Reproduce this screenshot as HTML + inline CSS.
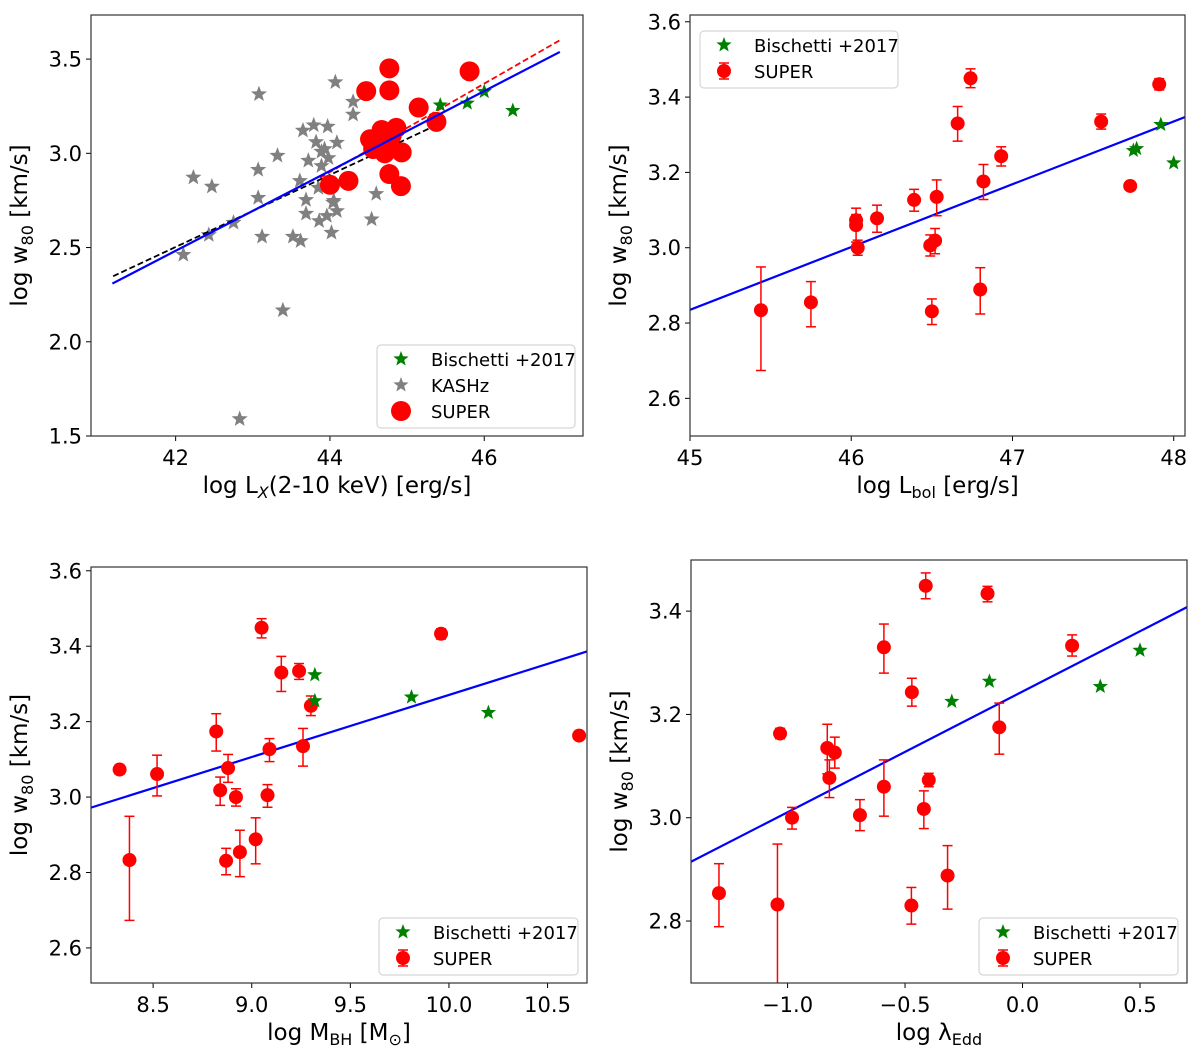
<!DOCTYPE html>
<html><head><meta charset="utf-8">
<style>
body{margin:0;background:#fff;}
svg{display:block;font-family:"DejaVu Sans","Liberation Sans",sans-serif;}
</style></head>
<body>
<svg id="fig" width="1200" height="1061" viewBox="0 0 1200 1061"></svg>
<script>
// ---------- Panel 1: log Lx ----------
const p1SuperX=[44.47,44.77,44.77,45.81,45.15,45.38,44.52,44.67,44.86,44.60,44.73,44.93,44.71,44.56,44.24,44.00,44.77,44.92,44.80];
const p1SuperY=[3.33,3.451,3.334,3.435,3.243,3.167,3.075,3.124,3.135,3.028,3.067,3.005,3.0,3.023,2.854,2.833,2.89,2.826,3.094];
const p1BisX=[45.43,45.78,46.0,46.37];
const p1BisY=[3.256,3.266,3.327,3.227];
const p1KasX=[42.10,42.23,42.47,42.43,42.75,43.08,43.07,43.07,43.12,43.32,43.39,42.83,43.52,43.62,43.65,43.72,43.69,43.69,43.79,43.82,43.89,43.93,43.98,43.97,43.89,43.61,43.85,43.86,43.96,44.02,44.04,44.09,44.05,44.09,44.07,44.30,44.30,44.60,44.54];
const p1KasY=[2.462,2.872,2.824,2.567,2.632,3.314,2.913,2.764,2.558,2.988,2.167,1.59,2.558,2.535,3.121,2.961,2.753,2.68,3.149,3.06,3.009,3.023,2.975,3.142,2.933,2.854,2.817,2.641,2.668,2.579,2.739,2.694,2.748,3.057,3.378,3.274,3.206,2.785,2.65];
const p1BlueFit=[41.18,2.309,46.98,3.538];
const p1BlackFit=[41.19,2.348,45.34,3.142];
const p1RedFit=[43.87,2.87,46.98,3.60];
const p1XTicks=[42,44,46];
const p1YTicks=[1.5,2.0,2.5,3.0,3.5];
// ---------- Panel 2: log Lbol ----------
const p2X=[45.44,45.75,46.03,46.03,46.04,46.16,46.39,46.53,46.49,46.52,46.50,46.66,46.74,46.82,46.80,46.93,47.55,47.73,47.91];
const p2Y=[2.834,2.855,3.073,3.06,3.0,3.078,3.127,3.135,3.006,3.019,2.831,3.33,3.45,3.176,2.889,3.243,3.335,3.164,3.434];
const p2ErrUp=[0.115,0.055,0.015,0.045,0.02,0.035,0.028,0.045,0.028,0.032,0.033,0.045,0.025,0.045,0.058,0.025,0.02,0.01,0.015];
const p2ErrLo=[0.16,0.065,0.015,0.045,0.02,0.037,0.03,0.05,0.028,0.035,0.035,0.047,0.025,0.048,0.065,0.026,0.02,0.01,0.015];
const p2BisX=[47.75,47.77,47.92,48.0];
const p2BisY=[3.258,3.263,3.327,3.225];
const p2Fit=[45.0,2.835,48.10,3.352];
const p2XTicks=[45,46,47,48];
const p2YTicks=[2.6,2.8,3.0,3.2,3.4,3.6];
// ---------- Panel 3: log MBH ----------
const p3X=[8.33,8.38,8.52,8.82,8.84,8.88,8.87,8.92,8.94,9.02,9.05,9.09,9.08,9.15,9.24,9.30,9.26,9.96,10.66];
const p3Y=[3.073,2.833,3.061,3.174,3.018,3.077,2.831,3.0,2.854,2.888,3.449,3.127,3.005,3.33,3.334,3.242,3.135,3.433,3.163];
const p3ErrUp=[0.012,0.116,0.05,0.047,0.035,0.036,0.033,0.022,0.058,0.057,0.024,0.028,0.028,0.043,0.02,0.026,0.047,0.013,0.01];
const p3ErrLo=[0.012,0.16,0.058,0.052,0.04,0.038,0.037,0.024,0.065,0.065,0.027,0.033,0.032,0.05,0.022,0.026,0.053,0.014,0.01];
const p3BisX=[9.32,9.32,9.81,10.20];
const p3BisY=[3.324,3.255,3.265,3.224];
const p3Fit=[8.185,2.972,10.70,3.386];
const p3XTicks=[8.5,9.0,9.5,10.0,10.5];
const p3YTicks=[2.6,2.8,3.0,3.2,3.4,3.6];
// ---------- Panel 4: log lambda Edd ----------
const p4X=[-1.292,-1.043,-1.032,-0.981,-0.831,-0.799,-0.822,-0.692,-0.590,-0.590,-0.471,-0.412,-0.399,-0.420,-0.473,-0.319,-0.149,-0.099,0.211];
const p4Y=[2.854,2.832,3.163,3.0,3.135,3.126,3.077,3.005,3.33,3.06,3.243,3.449,3.073,3.017,2.83,2.888,3.434,3.175,3.333];
const p4ErrUp=[0.057,0.117,0.01,0.02,0.046,0.03,0.035,0.03,0.045,0.052,0.027,0.025,0.013,0.035,0.035,0.058,0.014,0.047,0.021];
const p4ErrLo=[0.065,0.2,0.01,0.022,0.05,0.03,0.038,0.03,0.05,0.057,0.027,0.025,0.013,0.038,0.036,0.065,0.016,0.052,0.02];
const p4BisX=[-0.301,-0.141,0.331,0.5];
const p4BisY=[3.225,3.264,3.254,3.324];
const p4Fit=[-1.414,2.914,0.701,3.408];
const p4XTicks=[-1.0,-0.5,0.0,0.5];
const p4YTicks=[2.8,3.0,3.2,3.4];

const NS="http://www.w3.org/2000/svg";
const svg=document.getElementById('fig');
function mk(tag,attrs,parent){const e=document.createElementNS(NS,tag);for(const k in attrs)e.setAttribute(k,attrs[k]);(parent||svg).appendChild(e);return e;}
function starPath(cx,cy,r){let d='';for(let i=0;i<10;i++){const rr=i%2?r*0.42:r;const a=-Math.PI/2+i*Math.PI/5;d+=(i?'L':'M')+(cx+rr*Math.cos(a)).toFixed(2)+','+(cy+rr*Math.sin(a)).toFixed(2);}return d+'Z';}
function fmt(v,dec){const s=v.toFixed(dec);return s.replace('-','\u2212');}

function makeAxes(o){
  const g=mk('g',{});
  
  
  const sx=v=>o.L+(v-o.x0)/(o.x1-o.x0)*(o.R-o.L);
  const sy=v=>o.B-(v-o.y0)/(o.y1-o.y0)*(o.B-o.T);
  const cp='clip-'+o.name;
  const defs=mk('defs',{},g);const c=mk('clipPath',{id:cp},defs);mk('rect',{x:o.L,y:o.T,width:o.R-o.L,height:o.B-o.T},c);
  const plot=mk('g',{'clip-path':'url(#'+cp+')'},g);
  
  
  o.xt.forEach(v=>{const x=sx(v);mk('line',{x1:x,x2:x,y1:o.B,y2:o.B+5,stroke:'#000','stroke-width':1},g);
    const t=mk('text',{x:x,y:o.B+29,'font-size':21,'text-anchor':'middle'},g);t.textContent=fmt(v,o.xd);
    
    });
  o.yt.forEach(v=>{const y=sy(v);mk('line',{x1:o.L-5,x2:o.L,y1:y,y2:y,stroke:'#000','stroke-width':1},g);
    const t=mk('text',{x:o.L-9,y:y+7.5,'font-size':21,'text-anchor':'end'},g);t.textContent=fmt(v,1);
    
    });
  const xl=mk('text',{x:(o.L+o.R)/2,y:o.B+57,'font-size':23,'text-anchor':'middle'},g);xl.innerHTML=o.xlab;
  
  
  const yc=(o.T+o.B)/2, yx=o.L-64;
  const yl=mk('text',{x:yx,y:yc,'font-size':23,'text-anchor':'middle',transform:'rotate(-90 '+yx+' '+yc+')'},g);
  yl.innerHTML='log w<tspan font-size="16" dy="6">80</tspan><tspan dy="-6"> [km/s]</tspan>';
  
  
  return {g,plot,sx,sy};
}
function fitLine(ax,f,color,dash,name){
  const l=mk('line',{x1:ax.sx(f[0]),y1:ax.sy(f[1]),x2:ax.sx(f[2]),y2:ax.sy(f[3]),stroke:color,'stroke-width':dash?1.8:2.2,'stroke-dasharray':dash?'6,3':'none'},ax.plot);
  
  
}
function stars(ax,xs,ys,color,r,name){
  xs.forEach((x,i)=>{const p=mk('path',{d:starPath(ax.sx(x),ax.sy(ys[i]),r),fill:color},ax.plot);
    
    });
}
function errPts(ax,xs,ys,up,lo,r,name){
  xs.forEach((x,i)=>{const cx=ax.sx(x),cy=ax.sy(ys[i]);
    const g=mk('g',{},ax.plot);
    
    
    if(up){const yt=ax.sy(ys[i]+up[i]),yb=ax.sy(ys[i]-lo[i]);
      mk('line',{x1:cx,x2:cx,y1:yt,y2:yb,stroke:'#f00','stroke-width':1.5},g);
      mk('line',{x1:cx-5,x2:cx+5,y1:yt,y2:yt,stroke:'#f00','stroke-width':1.5},g);
      mk('line',{x1:cx-5,x2:cx+5,y1:yb,y2:yb,stroke:'#f00','stroke-width':1.5},g);}
    mk('circle',{cx:cx,cy:cy,r:r,fill:'#f00'},g);});
}
function frame(ax,o){const r=mk('rect',{x:o.L,y:o.T,width:o.R-o.L,height:o.B-o.T,fill:'none',stroke:'#333','stroke-width':1.2},ax.g);
  
  }
function legend(ax,x,y,w,entries){
  const g=mk('g',{},ax.g);
  
  
  mk('rect',{x:x,y:y,width:w,height:5+entries.length*26,rx:4,fill:'#fff','fill-opacity':0.85,stroke:'#ccc','stroke-width':1},g);
  entries.forEach((e,i)=>{const cy=y+14+i*26,mx=x+24;
    const eg=mk('g',{},g);
    
    
    if(e.t==='star')mk('path',{d:starPath(mx,cy,8),fill:e.c},eg);
    else if(e.t==='big')mk('circle',{cx:mx,cy:cy,r:10,fill:'#f00'},eg);
    else{mk('line',{x1:mx,x2:mx,y1:cy-8,y2:cy+8,stroke:'#f00','stroke-width':1.5},eg);
      mk('line',{x1:mx-5,x2:mx+5,y1:cy-8,y2:cy-8,stroke:'#f00','stroke-width':1.5},eg);
      mk('line',{x1:mx-5,x2:mx+5,y1:cy+8,y2:cy+8,stroke:'#f00','stroke-width':1.5},eg);
      mk('circle',{cx:mx,cy:cy,r:7,fill:'#f00'},eg);}
    const t=mk('text',{x:x+54,y:cy+7,'font-size':18},eg);t.textContent=e.l;});
}

// Panel 1
const o1={name:'panel-lx',L:91,R:583,T:15,B:436,x0:40.903,x1:47.28,y0:1.5,y1:3.734,xt:p1XTicks,yt:p1YTicks,xd:0,xlab:'log L<tspan font-size="16" dy="5" font-style="italic">X</tspan><tspan dy="-5">(2-10 keV) [erg/s]</tspan>'};
const a1=makeAxes(o1);
stars(a1,p1KasX,p1KasY,'#808080',8.5,'kashz-point');
fitLine(a1,p1BlackFit,'#000',true,'kashz-fit-line');
fitLine(a1,p1RedFit,'#f00',true,'super-fit-line');
errPts(a1,p1SuperX,p1SuperY,null,null,10,'super-point');
stars(a1,p1BisX,p1BisY,'#008000',8,'bischetti-point');
fitLine(a1,p1BlueFit,'#00f',false,'total-fit-line');
frame(a1,o1);
legend(a1,377,345,198,[{t:'star',c:'#008000',l:'Bischetti +2017'},{t:'star',c:'#808080',l:'KASHz'},{t:'big',l:'SUPER'}]);

// Panel 2
const o2={name:'panel-lbol',L:690,R:1185,T:15,B:436,x0:45.0,x1:48.07,y0:2.5,y1:3.618,xt:p2XTicks,yt:p2YTicks,xd:0,xlab:'log L<tspan font-size="16" dy="5">bol</tspan><tspan dy="-5"> [erg/s]</tspan>'};
const a2=makeAxes(o2);
fitLine(a2,p2Fit,'#00f',false,'fit-line');
errPts(a2,p2X,p2Y,p2ErrUp,p2ErrLo,7,'super-point');
stars(a2,p2BisX,p2BisY,'#008000',8,'bischetti-point');
frame(a2,o2);
legend(a2,700,31,198,[{t:'star',c:'#008000',l:'Bischetti +2017'},{t:'err',l:'SUPER'}]);

// Panel 3
const o3={name:'panel-mbh',L:91,R:587,T:567,B:983,x0:8.185,x1:10.70,y0:2.507,y1:3.61,xt:p3XTicks,yt:p3YTicks,xd:1,xlab:'log M<tspan font-size="16" dy="5">BH</tspan><tspan dy="-5"> [M</tspan><tspan font-size="16" dy="5">⊙</tspan><tspan dy="-5">]</tspan>'};
const a3=makeAxes(o3);
fitLine(a3,p3Fit,'#00f',false,'fit-line');
errPts(a3,p3X,p3Y,p3ErrUp,p3ErrLo,7,'super-point');
stars(a3,p3BisX,p3BisY,'#008000',8,'bischetti-point');
frame(a3,o3);
legend(a3,379,918,199,[{t:'star',c:'#008000',l:'Bischetti +2017'},{t:'err',l:'SUPER'}]);

// Panel 4
const o4={name:'panel-edd',L:691,R:1187,T:560,B:983,x0:-1.411,x1:0.70,y0:2.68,y1:3.499,xt:p4XTicks,yt:p4YTicks,xd:1,xlab:'log λ<tspan font-size="16" dy="5">Edd</tspan>'};
const a4=makeAxes(o4);
fitLine(a4,p4Fit,'#00f',false,'fit-line');
errPts(a4,p4X,p4Y,p4ErrUp,p4ErrLo,7,'super-point');
stars(a4,p4BisX,p4BisY,'#008000',8,'bischetti-point');
frame(a4,o4);
legend(a4,979,918,199,[{t:'star',c:'#008000',l:'Bischetti +2017'},{t:'err',l:'SUPER'}]);
</script>
</body></html>
